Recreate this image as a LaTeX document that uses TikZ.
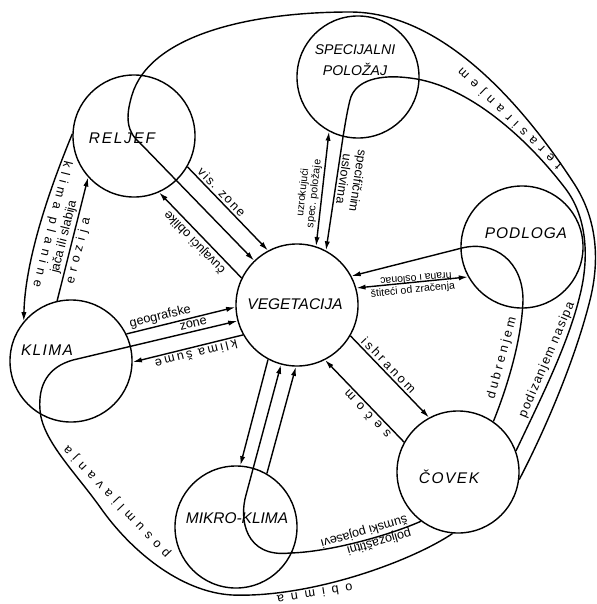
\documentclass[tikz,border=0pt]{standalone}
\usepackage{fontspec}
\setmainfont{Liberation Sans}
\usetikzlibrary{arrows.meta}
\newcommand\spc[2]{{\addfontfeatures{LetterSpace=#1}#2}}
\tikzset{
  stage/.style={circle,draw,line width=1pt,minimum size=3.05cm,inner sep=0pt},
  stagetxt/.style={font=\itshape\fontsize{11}{13}\selectfont,inner sep=0pt},
  link/.style={line width=1pt},
  arr/.style={link,-{Latex[length=2.3mm,width=1.3mm]}},
  twoarr/.style={link,{Latex[length=2.3mm,width=1.3mm]}-{Latex[length=2.3mm,width=1.3mm]}},
  lbl/.style={font=\fontsize{9}{10}\selectfont,inner sep=1.5pt},
  tinylbl/.style={font=\fontsize{7.5}{8}\selectfont,inner sep=1.5pt}
}

\begin{document}
\begin{tikzpicture}[x=0.025cm,y=-0.025cm]
  \useasboundingbox (0,0) rectangle (597,604);
  % circles
  \node[stage] (relief) at (134,136) {};
  \node[stage] (spec) at (358,77) {};
  \node[stage] (podloga) at (522,247) {};
  \node[stage] (veg) at (297,305) {};
  \node[stage] (klima) at (71,361) {};
  \node[stage] (mikro) at (236,527) {};
  \node[stage] (covek) at (458,472) {};
  \node[stagetxt] (relieftxt) at (122,138) {\spc{11}{RELJEF}};
  \node[stagetxt,font=\itshape\fontsize{10}{15}\selectfont,align=center] (spectxt) at (355,60) {SPECIJALNI\\POLOŽAJ};
  \node[stagetxt] (podlogatxt) at (526,233) {\spc{6}{PODLOGA}};
  \node[stagetxt] (vegtxt) at (295,304) {VEGETACIJA};
  \node[stagetxt] (klimatxt) at (47,350) {\spc{9}{KLIMA}};
  \node[stagetxt] (mikrotxt) at (237,518) {MIKRO-KLIMA};
  \node[stagetxt] (covektxt) at (449,477) {\spc{10}{ČOVEK}};

  % relief and vegetacija
  \draw[arr] (relief.-30) -- (veg.118) node[lbl,sloped,above,pos=.36] {\spc{12}{vis. zone}};
  \draw[arr] (veg.154) -- (relief.-66) node[lbl,sloped,allow upside down,above,pos=.49] {čuvajući oblike};
  % relief and klima
  \draw[arr] (relief.178) .. controls (45,200) and (25,265) .. (klima.140);
  \node[lbl,rotate=-104] (planine) at (52,224) {\spc{40}{klima planine}};
  \draw[arr] (klima.103) -- (relief.-138)
    node[lbl,sloped,above,pos=.5] {jača ili slabija}
    node[lbl,sloped,below,pos=.42] {\spc{40}{erozija}};
  % specijalni polozaj and vegetacija
  \draw[twoarr] (veg.72) -- (spec.-118) node[tinylbl,sloped,above,pos=.45,align=center] {uzrokujući\\spec. položaje};
  % podloga and vegetacija
  \draw[twoarr] (veg.16) -- (podloga.-151)
    node[tinylbl,sloped,below,pos=.5] {štiteći od zračenja};
  \node[tinylbl,rotate=185] (hrana) at (416,279) {hrana i oslonac};
  % klima and vegetacija
  \draw[arr] (klima.26) -- (veg.182)
    node[lbl,sloped,above,pos=.33] {geografske}
    node[lbl,sloped,below,pos=.6] {zone};
  \draw[arr] (veg.209) -- (klima.-1) node[lbl,sloped,allow upside down,above,pos=.44] {\spc{20}{klima šume}};
  % vegetacija and mikro-klima
  \draw[arr] (veg.-118) -- (mikro.86);
  \draw[arr] (mikro.60) -- (veg.-91);
  % vegetacija and covek
  \draw[arr] (veg.-30) -- (covek.118) node[lbl,sloped,above,pos=.42] {\spc{23}{ishranom}};
  \draw[arr] (covek.151) -- (veg.-63) node[lbl,sloped,allow upside down,above,pos=.4] {\spc{48}{sečom}};

  % covek through relief
  \draw[arr] (covek.-7) .. controls (545,430) and (575,360) .. (590,300)
    .. controls (600,260) and (597,220) .. (575,185)
    .. controls (520,100) and (440,12) .. (350,12)
    .. controls (250,12) and (150,35) .. (132,95)
    .. controls (125,118) and (127,132) .. (140,143) -- (veg.134);
  \node[lbl,rotate=136] (teras) at (510,118) {\spc{50}{terasiranjem}};
  % covek through specijalni polozaj
  \draw[arr] (covek.20) .. controls (540,400) and (568,345) .. (580,295)
    .. controls (590,255) and (586,215) .. (565,188)
    .. controls (530,142) and (470,85) .. (410,78)
    .. controls (380,74) and (355,80) .. (350,100)
    .. controls (347,112) and (345,125) .. (343,137) -- (veg.62)
    node[lbl,sloped,allow upside down,above,pos=.36,align=center] {specifičnim\\uslovima};
  \node[lbl,rotate=67] (nasip) at (547,360) {\spc{10}{podizanjem nasipa}};
  % covek through podloga
  \draw[arr] (covek.55) .. controls (510,380) and (522,335) .. (523,300)
    .. controls (523,262) and (495,240) .. (462,248) -- (veg.28);
  \node[lbl,rotate=75] (dubr) at (502,358) {\spc{24}{dubrenjem}};
  % covek through klima
  \draw[arr] (covek.-95) .. controls (410,562) and (310,598) .. (232,595)
    .. controls (180,592) and (130,550) .. (100,507)
    .. controls (75,472) and (42,440) .. (40,410)
    .. controls (38,385) and (48,367) .. (73,360) -- (veg.195);
  \node[lbl,rotate=189] (obim) at (315,594) {\spc{55}{obimna}};
  \node[lbl,rotate=133.5] (posum) at (117,502) {\spc{45}{posumljavanja}};
  % covek through mikro-klima
  \draw[arr] (covek.-127) .. controls (390,535) and (330,552) .. (290,553)
    .. controls (245,558) and (239,519) .. (246,495) -- (veg.-105);
  \node[lbl,rotate=196,align=left] (pojas) at (366,538) {poljozaštitni\\šumski pojasevi};
\end{tikzpicture}
\end{document}
